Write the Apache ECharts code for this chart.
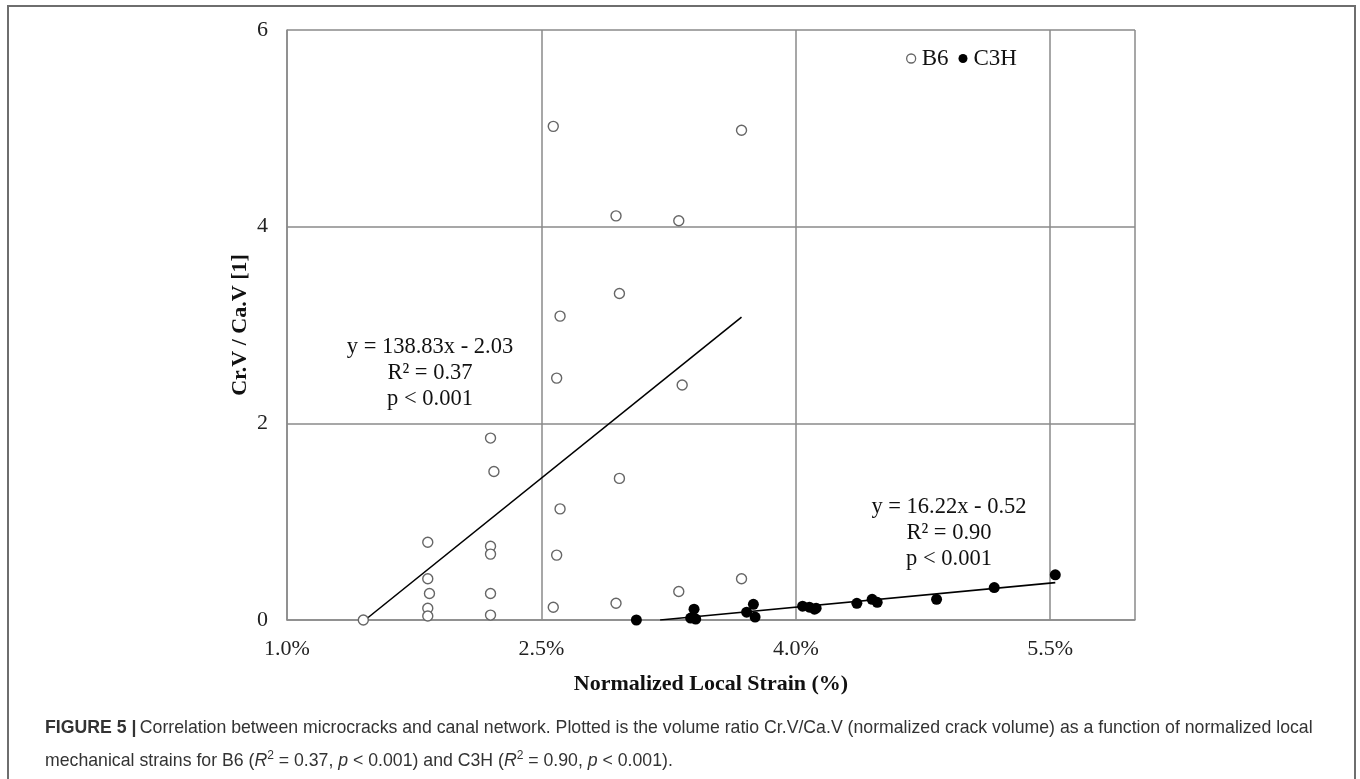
<!DOCTYPE html>
<html>
<head>
<meta charset="utf-8">
<script src="https://cdn.jsdelivr.net/npm/echarts@6/dist/echarts.min.js"></script>
<style>
  html, body { margin: 0; padding: 0; background: #fff; }
  #chart { width: 1360px; height: 779px; }
</style>
</head>
<body>
<div id="chart"></div>
<script>
// ---- data (x = normalized local strain in %, y = Cr.V / Ca.V) ----
const b6Strain = [1.45, 1.83, 1.83, 1.84, 1.83, 1.83, 2.20, 2.22, 2.20, 2.20, 2.20, 2.20,
                  2.57, 2.59, 2.61, 2.61, 2.59, 2.57, 2.94, 2.96, 2.96, 2.94, 3.31, 3.33, 3.31, 3.68, 3.68];
const b6Ratio  = [0.00, 0.79, 0.42, 0.27, 0.12, 0.04, 1.85, 1.51, 0.75, 0.67, 0.27, 0.05,
                  5.02, 2.46, 3.09, 1.13, 0.66, 0.13, 4.11, 3.32, 1.44, 0.17, 4.06, 2.39, 0.29, 4.98, 0.42];
const c3hStrain = [3.06, 3.38, 3.41, 3.40, 3.71, 3.75, 3.76, 4.04, 4.08, 4.11, 4.12, 4.36, 4.45, 4.48, 4.83, 5.17, 5.53];
const c3hRatio  = [0.00, 0.02, 0.01, 0.11, 0.08, 0.16, 0.03, 0.14, 0.13, 0.11, 0.12, 0.17, 0.21, 0.18, 0.21, 0.33, 0.46];
// linear trendline end points
const b6TrendX = [1.46, 3.68];
const b6TrendY = [0.00, 3.08];
const c3hTrendX = [3.20, 5.53];
const c3hTrendY = [0.00, 0.38];
const seriesNames = ['B6', 'C3H'];
const b6Label = ['y = 138.83x - 2.03', 'R\u00B2 = 0.37', 'p < 0.001'];
const c3hLabel = ['y = 16.22x - 0.52', 'R\u00B2 = 0.90', 'p < 0.001'];
const xTicks = [1.0, 2.5, 4.0, 5.5];
const yTicks = [0, 2, 4, 6];
const xTitle = 'Normalized Local Strain (%)';
const yTitle = 'Cr.V / Ca.V [1]';

const zip = (a, b) => a.map((v, i) => [v, b[i]]);

const serif = 'Liberation Serif, Times New Roman, serif';
const sans = 'Liberation Sans, Arial, sans-serif';
const gridColor = '#8a8a8a';

const chart = echarts.init(document.getElementById('chart'), null, { renderer: 'canvas' });

const option = {
  backgroundColor: '#fff',
  animation: false,
  grid: { left: 287, right: 225, top: 30, bottom: 159, containLabel: false },
  legend: {
    left: 901, top: 42,
    itemWidth: 9, itemHeight: 9, itemGap: 10,
    textStyle: { fontFamily: serif, fontSize: 23, color: '#111', padding: [0, 0, 0, 1] },
    data: [
      { name: seriesNames[0], icon: 'circle', itemStyle: { color: '#fff', borderColor: '#666', borderWidth: 1.3 } },
      { name: seriesNames[1], icon: 'circle', itemStyle: { color: '#000' } }
    ]
  },
  xAxis: {
    type: 'value', min: 1, max: 6, interval: 1.5,
    name: xTitle, nameLocation: 'middle', nameGap: 53,
    nameTextStyle: { fontFamily: serif, fontSize: 22, fontWeight: 'bold', color: '#111' },
    axisLine: { show: true, lineStyle: { color: gridColor, width: 1.5 } },
    axisTick: { show: false },
    axisLabel: {
      fontFamily: serif, fontSize: 22, color: '#222', margin: 18,
      showMaxLabel: false,
      formatter: v => (xTicks.some(t => Math.abs(t - v) < 1e-9) ? v.toFixed(1) + '%' : '')
    },
    splitLine: { show: true, lineStyle: { color: gridColor, width: 1.5 } }
  },
  yAxis: {
    type: 'value', min: 0, max: 6, interval: 2,
    name: yTitle, nameLocation: 'middle', nameGap: 36, nameRotate: 90, nameMoveOverlap: false,
    nameTextStyle: { fontFamily: serif, fontSize: 22, fontWeight: 'bold', color: '#111' },
    axisLine: { show: true, lineStyle: { color: gridColor, width: 1.5 } },
    axisTick: { show: false },
    axisLabel: {
      fontFamily: serif, fontSize: 22, color: '#222', margin: 19,
      formatter: v => (yTicks.includes(v) ? String(v) : '')
    },
    splitLine: { show: true, lineStyle: { color: gridColor, width: 1.5 } }
  },
  series: [
    {
      name: seriesNames[0], type: 'scatter', symbol: 'circle', symbolSize: 10,
      itemStyle: { color: '#fff', borderColor: '#666', borderWidth: 1.4, opacity: 1 },
      data: zip(b6Strain, b6Ratio), z: 3
    },
    {
      name: seriesNames[1], type: 'scatter', symbol: 'circle', symbolSize: 11,
      itemStyle: { color: '#000', opacity: 1 },
      data: zip(c3hStrain, c3hRatio), z: 4
    },
    {
      name: 'B6 trend', type: 'line', showSymbol: false, symbol: 'none', silent: true,
      lineStyle: { color: '#000', width: 1.6 }, data: zip(b6TrendX, b6TrendY), z: 2
    },
    {
      name: 'C3H trend', type: 'line', showSymbol: false, symbol: 'none', silent: true,
      lineStyle: { color: '#000', width: 1.6 }, data: zip(c3hTrendX, c3hTrendY), z: 2
    }
  ],
  graphic: [
    {
      type: 'rect', silent: true, z: -1,
      shape: { x: 8, y: 6, width: 1347, height: 800 },
      style: { fill: 'none', stroke: '#6e6e6e', lineWidth: 2 }
    },
    {
      type: 'text', x: 430, y: 334, silent: true,
      style: {
        text: b6Label.join('\n'), fontFamily: serif, fontSize: 22.5, lineHeight: 26,
        fill: '#111', align: 'center', verticalAlign: 'top'
      }
    },
    {
      type: 'text', x: 949, y: 494, silent: true,
      style: {
        text: c3hLabel.join('\n'), fontFamily: serif, fontSize: 22.5, lineHeight: 26,
        fill: '#111', align: 'center', verticalAlign: 'top'
      }
    },
    {
      type: 'text', left: 45, top: 719, silent: true,
      style: {
        text: '{b|FIGURE 5 |} {n|Correlation between microcracks and canal network. Plotted is the volume ratio Cr.V/Ca.V (normalized crack volume) as a function of normalized local}',
        rich: {
          b: { fontFamily: sans, fontSize: 17.7, fontWeight: 'bold', fill: '#333' },
          n: { fontFamily: sans, fontSize: 17.7, fill: '#333' }
        }
      }
    },
    {
      type: 'text', left: 45, top: 750, silent: true,
      style: {
        text: '{n|mechanical strains for B6 (}{i|R}{s|2}{n| = 0.37, }{i|p}{n| < 0.001) and C3H (}{i|R}{s|2}{n| = 0.90, }{i|p}{n| < 0.001).}',
        rich: {
          n: { fontFamily: sans, fontSize: 17.7, fill: '#333', lineHeight: 22 },
          i: { fontFamily: sans, fontSize: 17.7, fontStyle: 'italic', fill: '#333', lineHeight: 22 },
          s: { fontFamily: sans, fontSize: 12, fill: '#333', verticalAlign: 'top', lineHeight: 22 }
        }
      }
    }
  ]
};

chart.setOption(option);
</script>
</body>
</html>
